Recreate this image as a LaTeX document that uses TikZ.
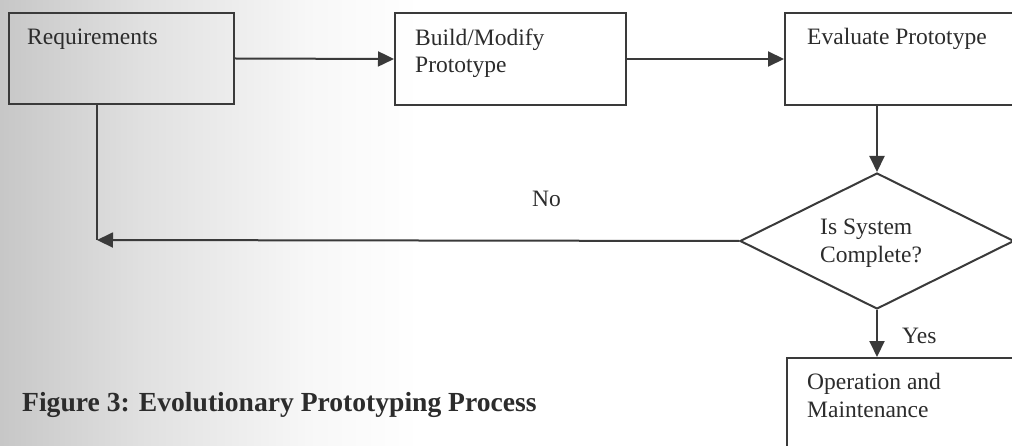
\documentclass[tikz,border=0pt]{standalone}
\usepackage{fontspec}
\setmainfont{Liberation Serif}
\usetikzlibrary{arrows.meta,shapes.geometric}
\definecolor{ink}{HTML}{3A3A3A}
\definecolor{txt}{HTML}{2C2C2C}
% the path edges fall on 25bp and 75bp of the shading
\pgfdeclarehorizontalshading{pagefade}{100bp}{%
  color(0bp)=(black!22); color(25bp)=(black!22); color(42bp)=(black!12);
  color(62bp)=(black!3); color(75bp)=(white); color(100bp)=(white)}
\begin{document}
\begin{tikzpicture}[x=1pt,y=-1pt,
  box/.style={draw=ink, line width=2pt, anchor=north west, inner sep=0pt},
  lbl/.style={anchor=base west, inner sep=0pt, text=txt,
              font=\fontsize{23.5}{27}\selectfont},
  wire/.style={draw=ink, line width=2pt},
  flow/.style={wire, -{Triangle[length=16pt,width=15pt]}}]

  % page area and soft shadow on the left side
  \useasboundingbox (0,0) rectangle (1012,446);
  \clip (0,0) rectangle (1012,446);
  \fill[white] (0,0) rectangle (1012,446);
  \shade[shading=pagefade] (0,0) rectangle (420,446);

  % process boxes
  \node[box, minimum width=225pt, minimum height=91pt] (req)   at (8,12)   {};
  \node[box, minimum width=231pt, minimum height=92pt] (build) at (394,12) {};
  \node[box, minimum width=260pt, minimum height=92pt] (eval)  at (784,12) {};
  \node[box, minimum width=260pt, minimum height=120pt] (op)   at (786,357) {};

  % decision
  \node[diamond, draw=ink, line width=2pt, inner sep=0pt,
        minimum width=274pt, minimum height=136pt] (dec) at (877,241) {};

  % texts
  \node[lbl] (treq)  at (27,45)  {Requirements};
  \node[lbl] (tb1)   at (415,46) {Build/Modify};
  \node[lbl] (tb2)   at (415,73) {Prototype};
  \node[lbl] (tev)   at (807,45) {Evaluate Prototype};
  \node[lbl] (td1)   at (820,235) {Is System};
  \node[lbl] (td2)   at (820,263) {Complete?};
  \node[lbl] (top1)  at (807,389) {Operation and};
  \node[lbl] (top2)  at (807,417) {Maintenance};
  \node[lbl] (tno)   at (532,207) {No};
  \node[lbl] (tyes)  at (902,343) {Yes};

  % connectors
  \coordinate (ret) at (97,240);
  \draw[flow] (req.east) -- (build.west);
  \draw[flow] (build.east) -- (build.east -| eval.west);
  \draw[flow] (eval.south -| dec.north) -- (dec.north);
  \draw[flow] (dec.south) -- (dec.south |- op.north);
  \draw[flow] (dec.west) -- (ret);
  \draw[wire] (req.south -| ret) -- (ret);

  % caption
  \node[anchor=base west, inner sep=0pt, text=txt,
        font=\bfseries\fontsize{27.6}{33}\selectfont] (cap) at (22,411)
        {Figure 3: Evolutionary Prototyping Process};
\end{tikzpicture}
\end{document}
